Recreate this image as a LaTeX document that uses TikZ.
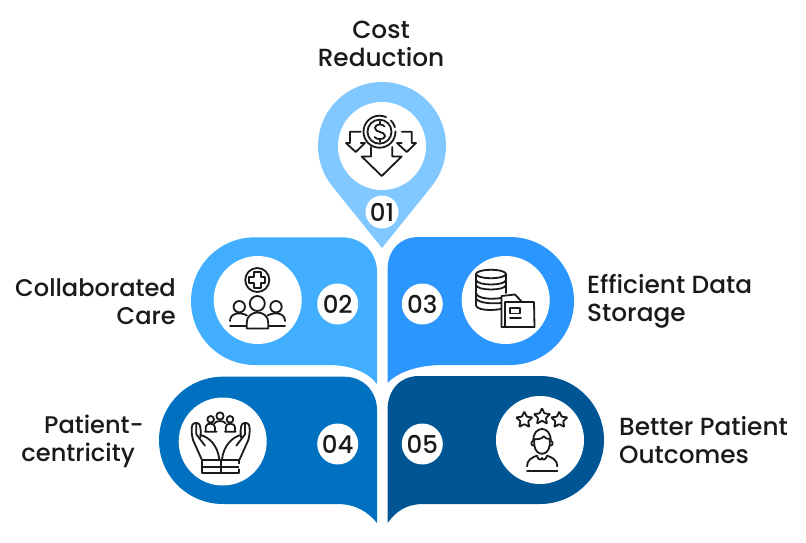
\documentclass[tikz,border=0pt]{standalone}
\usepackage{fontspec}
\usetikzlibrary{shapes.geometric}
\setmainfont{Poppins}[UprightFont=* Medium]
\definecolor{cOne}{HTML}{80C8FF}
\definecolor{cTwo}{HTML}{42AEFF}
\definecolor{cThree}{HTML}{2C96FF}
\definecolor{cFour}{HTML}{0070C0}
\definecolor{cFive}{HTML}{005694}
\definecolor{ink}{HTML}{1A1A1A}
\tikzset{
  discbig/.style={circle,fill=white,inner sep=0pt,minimum size=88pt},
  numdisc/.style={circle,fill=white,inner sep=0pt,minimum size=41pt,text=ink,font=\fontsize{24.5}{24.5}\selectfont},
  lbl/.style={text=ink,font=\fontsize{24.8}{28}\selectfont,inner sep=0pt},
  lblsmall/.style={text=ink,font=\fontsize{24.1}{27.5}\selectfont,inner sep=0pt},
  icon/.style={draw=ink,line width=1.8pt,line cap=round,line join=round},
  fstar/.style={star,star points=5,star point ratio=2.1,draw=ink,line width=1.8pt,inner sep=0pt,minimum size=17pt,rounded corners=0.8pt}
}
\begin{document}
\begin{tikzpicture}[x=1pt,y=-1pt]
\useasboundingbox (0,0) rectangle (806,543);
% blobs
\fill[cOne] (382,248) -- (332.3,186.3) .. controls (323.7,175.5) and (318,161.5) .. (318,146)
  .. controls (318,110.7) and (346.7,82) .. (382,82)
  .. controls (417.3,82) and (446,110.7) .. (446,146)
  .. controls (446,161.5) and (440.3,175.5) .. (431.7,186.3) -- cycle;
\fill[cTwo] (255,237.3) -- (342,237.3) .. controls (362,237.3) and (377,252) .. (377,272) -- (377,384)
  .. controls (368,372) and (350,365) .. (328,365) -- (255,365)
  .. controls (219.6,365) and (191,336.5) .. (191,301)
  .. controls (191,265.7) and (219.6,237.3) .. (255,237.3) -- cycle;
\fill[cThree] (510,237) -- (419,237) .. controls (400,237) and (387.5,250) .. (387.5,270) -- (387.5,383)
  .. controls (398,372) and (418,365) .. (443,365) -- (510,365)
  .. controls (545.3,365) and (574,336.5) .. (574,301)
  .. controls (574,265.7) and (545.3,237) .. (510,237) -- cycle;
\fill[cFour] (223,376.7) -- (344,376.7) .. controls (364,376.7) and (377,392) .. (377,410) -- (377,523)
  .. controls (368,512) and (356,504) .. (337,504) -- (223,504)
  .. controls (187.7,504) and (159,475.7) .. (159,440.3)
  .. controls (159,405) and (187.7,376.7) .. (223,376.7) -- cycle;
\fill[cFive] (540,376) -- (419,376) .. controls (400,376) and (387.5,390) .. (387.5,410) -- (387.5,523)
  .. controls (396,512) and (405,504) .. (424,504) -- (540,504)
  .. controls (575.3,504) and (604,475.3) .. (604,440)
  .. controls (604,404.7) and (575.3,376) .. (540,376) -- cycle;
% white discs
\node[discbig] (d1) at (382,146) {};
\node[discbig] (d2) at (257.7,300) {};
\node[discbig] (d3) at (505.7,300) {};
\node[discbig] (d4) at (222.7,441.5) {};
\node[discbig] (d5) at (540,440) {};
% numbers
\node[numdisc,minimum size=33pt] (n1) at (382,212) {01};
\node[numdisc] (n2) at (337.7,304) {02};
\node[numdisc] (n3) at (422.3,304) {03};
\node[numdisc] (n4) at (337.7,444) {04};
\node[numdisc] (n5) at (422.3,444) {05};
% labels
\node[lbl,align=center] (t1) at (381,43.7) {Cost\\Reduction};
\node[lblsmall,align=right,anchor=east] (t2) at (176,301.5) {Collaborated\\Care};
\node[lbl,align=left,anchor=west] (t3) at (587,301.5) {Efficient Data\\Storage};
\node[lblsmall,align=right,anchor=east] (t4) at (144,441.5) {Patient-\\centricity\hspace*{9pt}};
\node[lbl,align=left,anchor=west] (t5) at (619,440.5) {Better Patient\\Outcomes};
% icon 1
\begin{scope}[icon]
\draw (379.5,131.7) circle[radius=12];
\draw[dash pattern=on 82pt off 6pt on 8pt off 4pt] (379.5,131.7) circle[radius=16];
\draw (371,147) -- (371,156.5) -- (361.7,156.5) -- (381.7,176) -- (401.7,156.5) -- (392.3,156.5) -- (392.3,147);
\draw (350,143) -- (346,143) -- (355.7,152) -- (365,143) -- (360.7,143) (360.7,131.7) -- (350,131.7) -- (350,143);
\draw (401.7,143) -- (397,143) -- (406.7,152) -- (416,143) -- (411.7,143) -- (411.7,131.7) -- (401.7,131.7);
\draw (384.5,126.5) .. controls (383,123.5) and (375,123.5) .. (375,128)
   .. controls (375,133) and (385,131) .. (385,136)
   .. controls (385,140) and (376,140) .. (374.5,137)
   (380,121.5) -- (380,124) (380,139) -- (380,142);
\end{scope}
% icon 2
\begin{scope}[icon]
\draw (257.3,280) circle[radius=12];
\draw (254,272) -- (260.6,272) -- (260.6,276.7) -- (265.3,276.7) -- (265.3,283.3) -- (260.6,283.3) -- (260.6,288) -- (254,288) -- (254,283.3) -- (249.3,283.3) -- (249.3,276.7) -- (254,276.7) -- cycle;
\draw (257.3,303.5) circle[radius=7.5];
\draw (239.3,306.7) circle[radius=5.7];
\draw (276,306.7) circle[radius=5.7];
\draw (246.7,328.5) -- (246.7,323) .. controls (246.7,309) and (268.3,309) .. (268.3,323) -- (268.3,328.5) -- cycle;
\draw (230,326) -- (246,326) (230,321) .. controls (230,313) and (240,311.5) .. (247,315.5);
\draw (269,326) -- (285,326) (285,321) .. controls (285,313) and (275,311.5) .. (267.5,315.5);
\end{scope}
% icon 3
\begin{scope}[icon]
\draw (491,274) ellipse[x radius=15,y radius=4.2];
\draw (476,274) -- (476,305) .. controls (476,310) and (490,311) .. (501,309);
\draw (506,274) -- (506,293);
\draw (476,280) .. controls (477,286) and (505,286) .. (506,280);
\draw (476,285) .. controls (477,291) and (505,291) .. (506,285);
\draw (476,293) .. controls (477,299) and (492,299.5) .. (501,298);
\draw (476,298) .. controls (477,303) and (492,304) .. (501,303);
\draw (501.5,327) -- (501.5,296) -- (515,294.5) -- (522,302) -- (534,302) -- (534.5,327) -- (501.5,327);
\draw (505,302) -- (522,302) (505,302) -- (505,327);
\draw (510,308) rectangle (520,313.5);
\draw (510,318) -- (521,318);
\end{scope}
% icon 4
\begin{scope}[shift={(185,405)},x=0.3333pt,y=-0.3333pt,icon]
\draw (105,33) circle[radius=11];
\draw (77,43) circle[radius=10];
\draw (135,43) circle[radius=10];
\draw (60,80) -- (95,80) (62,78) -- (62,66) .. controls (62,58) and (70,56) .. (77,56) .. controls (85,56) and (90,60) .. (90,68) -- (90,78);
\draw (120,80) -- (152,80) (122,78) -- (122,68) .. controls (122,60) and (127,56) .. (135,56) .. controls (143,56) and (150,60) .. (150,66) -- (150,78);
\draw (88,55) .. controls (92,46) and (118,46) .. (122,55);
\draw (50,163) -- (24,105) .. controls (20,90) and (18,70) .. (22,60) .. controls (26,52) and (38,52) .. (43,58) .. controls (48,68) and (48,85) .. (46,97);
\draw (34,56) -- (34,88) -- (60,122);
\draw (46,90) .. controls (70,95) and (98,120) .. (103,163);
\draw (164,163) -- (190,105) .. controls (194,90) and (196,70) .. (192,60) .. controls (188,52) and (176,52) .. (171,58) .. controls (166,68) and (166,85) .. (168,97);
\draw (180,56) -- (180,88) -- (154,122);
\draw (168,90) .. controls (144,95) and (116,120) .. (111,163);
\draw (163,193) -- (163,205) -- (50,205) -- (50,165) -- (163,165) -- (163,175);
\draw (107,165) -- (107,205) (50,185) -- (160,185);
\end{scope}
% icon 5
\node[fstar] (s1) at (524.3,420) {};
\node[fstar] (s2) at (542,416.7) {};
\node[fstar] (s3) at (559.3,420) {};
\begin{scope}[shift={(502,405)},x=0.3333pt,y=-0.3333pt,icon]
\draw (94,108) .. controls (92,60) and (148,60) .. (146,108);
\draw (95,102) .. controls (105,104) and (120,102) .. (125,94) .. controls (128,100) and (138,103) .. (146,102);
\draw (97,105) -- (97,120) .. controls (100,155) and (140,155) .. (143,120) -- (143,105);
\draw (93,108) .. controls (86,110) and (86,122) .. (96,122);
\draw (147,108) .. controls (154,110) and (154,122) .. (144,122);
\draw (75,184) .. controls (75,165) and (90,157) .. (105,152) .. controls (108,165) and (118,167) .. (120,159) .. controls (122,167) and (132,165) .. (135,152) .. controls (150,157) and (166,165) .. (166,184);
\draw (75,198) -- (166,198);
\end{scope}
\end{tikzpicture}
\end{document}
